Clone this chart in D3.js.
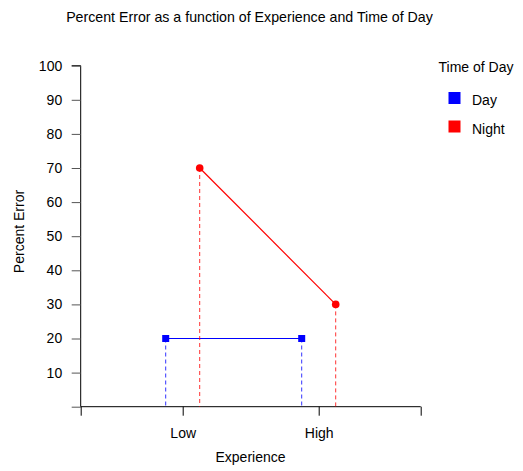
<!DOCTYPE html>
<html><head><meta charset="utf-8">
<script src="https://cdn.jsdelivr.net/npm/d3@7"></script>
<style>body{margin:0;background:#fff}text{font-family:"Liberation Sans",Arial,sans-serif;fill:#000}</style>
</head><body><svg id="c" width="523" height="471"></svg>
<script>
const categories = ["Low", "High"];
const seriesNames = ["Day", "Night"];
const dayValues = [20, 20];
const nightValues = [70, 30];
const yTicks = [0, 10, 20, 30, 40, 50, 60, 70, 80, 90, 100];
const colors = ["#0000ff", "#ff0000"];

const svg = d3.select("#c");
const x = d3.scaleLinear().domain([0, 1]).range([80.7, 420.7]);
const catPos = {Low: 0.3, High: 0.7};
const offsets = [-0.05, 0.05];
const y = d3.scaleLinear().domain([0, 100]).range([406.7, 65.7]);
const FS = "14px";

// title
svg.append("text").attr("x", 249.5).attr("y", 22).attr("text-anchor", "middle")
  .style("font-size", "14.2px").text("Percent Error as a function of Experience and Time of Day");

// y axis
const ya = svg.append("g").attr("transform", "translate(80.7,0)")
  .call(d3.axisLeft(y).tickValues(yTicks).tickSize(9).tickPadding(9.5)
    .tickFormat(d => d === 0 ? "" : d));
ya.select(".domain").attr("stroke", "#000").attr("d", `M-9,${y(100)}H0V${y(0)}`);
ya.selectAll(".tick line").attr("stroke", "#555");
ya.selectAll("text").style("font-size", FS).style("font-family", "Liberation Sans, Arial, sans-serif");

// x axis
const xa = svg.append("g").attr("transform", `translate(0,${y(0)})`)
  .call(d3.axisBottom(x).tickValues([0, 0.3, 0.7, 1]).tickSize(9).tickPadding(12.5)
    .tickFormat(d => d === 0.3 ? categories[0] : d === 0.7 ? categories[1] : ""));
xa.select(".domain").attr("stroke", "#000").attr("d", `M${x(0)},0H${x(1)}`);
xa.selectAll(".tick line").attr("stroke", "#000");
xa.selectAll("text").style("font-size", FS).style("font-family", "Liberation Sans, Arial, sans-serif");

svg.append("text").attr("x", 250.5).attr("y", 462).attr("text-anchor", "middle")
  .style("font-size", FS).text("Experience");
svg.append("text").attr("transform", "translate(23.5,231.5) rotate(-90)").attr("text-anchor", "middle")
  .style("font-size", FS).text("Percent Error");

const series = [dayValues, nightValues];
series.forEach((vals, si) => {
  const pts = categories.map((c, i) => [x(catPos[c] + offsets[si]), y(vals[i])]);
  // drop lines
  pts.forEach(p => {
    svg.append("line").attr("x1", p[0]).attr("x2", p[0]).attr("y1", p[1]).attr("y2", y(0))
      .attr("stroke", colors[si]).attr("stroke-width", 1).attr("stroke-dasharray", "4,3").attr("opacity", 0.8);
  });
  svg.append("path").attr("d", d3.line()(pts)).attr("fill", "none")
    .attr("stroke", colors[si]).attr("stroke-width", 1.2);
  pts.forEach(p => {
    if (si === 0) {
      svg.append("rect").attr("x", p[0] - 3.5).attr("y", p[1] - 3.5).attr("width", 7).attr("height", 7).attr("fill", colors[si]);
    } else {
      svg.append("circle").attr("cx", p[0]).attr("cy", p[1]).attr("r", 3.8).attr("fill", colors[si]);
    }
  });
});

// legend
svg.append("text").attr("x", 476).attr("y", 71.5).attr("text-anchor", "middle")
  .style("font-size", FS).text("Time of Day");
seriesNames.forEach((n, i) => {
  const ly = 98 + i * 28.5;
  svg.append("rect").attr("x", 448.5).attr("y", ly - 6).attr("width", 12).attr("height", 12).attr("fill", colors[i]);
  svg.append("text").attr("x", 472).attr("y", ly + 7).style("font-size", FS).text(n);
});
</script></body></html>
